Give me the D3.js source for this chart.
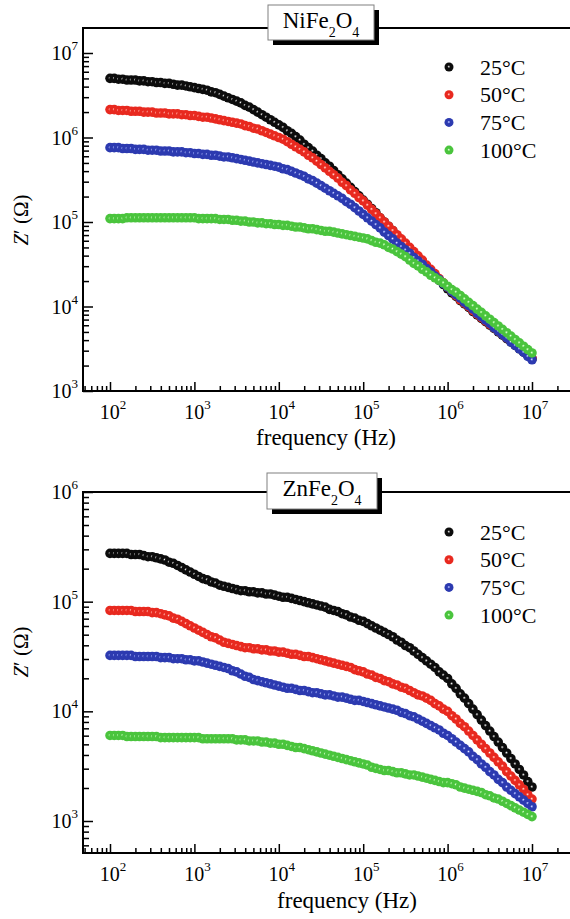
<!DOCTYPE html>
<html>
<head>
<meta charset="utf-8">
<script src="https://cdn.jsdelivr.net/npm/d3@7"></script>
<style>
  body { margin: 0; background: #fff; }
  svg { display: block; }
</style>
</head>
<body>
<svg id="chart" width="570" height="919" font-family="'Liberation Serif', 'DejaVu Serif', serif"></svg>
<script>
// Measurement frequencies, log10(f / Hz)
const freqExp = [
  2.00,2.05,2.10,2.15,2.20,2.25,2.30,2.35,2.40,2.45,
  2.50,2.55,2.60,2.65,2.70,2.75,2.80,2.85,2.90,2.95,
  3.00,3.05,3.10,3.15,3.20,3.25,3.30,3.35,3.40,3.45,
  3.50,3.55,3.60,3.65,3.70,3.75,3.80,3.85,3.90,3.95,
  4.00,4.05,4.10,4.15,4.20,4.25,4.30,4.35,4.40,4.45,
  4.50,4.55,4.60,4.65,4.70,4.75,4.80,4.85,4.90,4.95,
  5.00,5.05,5.10,5.15,5.20,5.25,5.30,5.35,5.40,5.45,
  5.50,5.55,5.60,5.65,5.70,5.75,5.80,5.85,5.90,5.95,
  6.00,6.05,6.10,6.15,6.20,6.25,6.30,6.35,6.40,6.45,
  6.50,6.55,6.60,6.65,6.70,6.75,6.80,6.85,6.90,6.95,
  7.00
];

const temperatures = ["25°C", "50°C", "75°C", "100°C"];

// NiFe2O4: log10(Z' / Ω) at each frequency
const niFe25 = [
  6.70,6.70,6.69,6.69,6.68,6.68,6.68,6.67,6.67,6.66,
  6.66,6.65,6.65,6.64,6.64,6.63,6.62,6.62,6.61,6.60,
  6.59,6.58,6.57,6.56,6.54,6.53,6.51,6.49,6.47,6.45,
  6.43,6.41,6.38,6.36,6.33,6.30,6.27,6.24,6.21,6.18,
  6.15,6.12,6.08,6.05,6.01,5.97,5.92,5.88,5.84,5.79,
  5.75,5.70,5.66,5.61,5.56,5.51,5.46,5.41,5.36,5.31,
  5.26,5.21,5.16,5.11,5.05,5.00,4.95,4.90,4.84,4.79,
  4.74,4.69,4.63,4.58,4.53,4.47,4.42,4.37,4.31,4.26,
  4.21,4.16,4.12,4.07,4.03,3.99,3.94,3.90,3.86,3.82,
  3.78,3.74,3.70,3.66,3.62,3.58,3.54,3.50,3.46,3.42,
  3.38
];
const niFe50 = [
  6.33,6.33,6.32,6.32,6.32,6.31,6.31,6.31,6.30,6.30,
  6.30,6.29,6.29,6.29,6.28,6.28,6.28,6.27,6.27,6.26,
  6.26,6.25,6.24,6.24,6.23,6.22,6.21,6.20,6.19,6.18,
  6.17,6.16,6.14,6.13,6.11,6.10,6.08,6.06,6.04,6.02,
  6.00,5.98,5.95,5.92,5.89,5.86,5.83,5.79,5.76,5.72,
  5.68,5.64,5.60,5.56,5.52,5.47,5.43,5.38,5.34,5.29,
  5.25,5.20,5.15,5.10,5.05,5.00,4.95,4.90,4.85,4.80,
  4.75,4.70,4.65,4.60,4.55,4.49,4.44,4.39,4.33,4.28,
  4.23,4.18,4.13,4.08,4.04,4.00,3.95,3.91,3.87,3.83,
  3.79,3.75,3.71,3.67,3.63,3.59,3.55,3.51,3.47,3.43,
  3.39
];
const niFe75 = [
  5.88,5.88,5.88,5.87,5.87,5.87,5.86,5.86,5.86,5.85,
  5.85,5.85,5.84,5.84,5.84,5.83,5.83,5.83,5.82,5.82,
  5.81,5.81,5.80,5.80,5.79,5.79,5.78,5.77,5.77,5.76,
  5.75,5.74,5.73,5.72,5.71,5.70,5.69,5.68,5.67,5.66,
  5.65,5.63,5.62,5.60,5.58,5.56,5.54,5.51,5.49,5.46,
  5.43,5.40,5.37,5.34,5.31,5.28,5.24,5.21,5.17,5.13,
  5.09,5.05,5.01,4.97,4.93,4.88,4.84,4.80,4.75,4.71,
  4.67,4.63,4.58,4.54,4.50,4.45,4.41,4.36,4.32,4.27,
  4.23,4.18,4.14,4.10,4.05,4.01,3.97,3.92,3.88,3.84,
  3.80,3.75,3.71,3.67,3.63,3.58,3.54,3.50,3.46,3.41,
  3.37
];
const niFe100 = [
  5.04,5.04,5.04,5.04,5.05,5.05,5.05,5.05,5.05,5.05,
  5.05,5.05,5.05,5.05,5.05,5.05,5.05,5.05,5.05,5.05,
  5.05,5.04,5.04,5.04,5.04,5.04,5.03,5.03,5.03,5.02,
  5.02,5.01,5.01,5.00,5.00,4.99,4.99,4.98,4.98,4.97,
  4.97,4.96,4.96,4.95,4.94,4.94,4.93,4.92,4.92,4.91,
  4.90,4.89,4.89,4.88,4.87,4.86,4.85,4.84,4.83,4.82,
  4.81,4.80,4.78,4.76,4.75,4.73,4.70,4.68,4.65,4.62,
  4.59,4.55,4.51,4.48,4.44,4.41,4.37,4.34,4.31,4.28,
  4.24,4.20,4.17,4.13,4.09,4.05,4.01,3.97,3.93,3.89,
  3.85,3.81,3.77,3.73,3.69,3.65,3.61,3.57,3.53,3.49,
  3.45
];

// ZnFe2O4: log10(Z' / Ω) at each frequency
const znFe25 = [
  5.44,5.44,5.44,5.44,5.44,5.43,5.43,5.43,5.42,5.41,
  5.41,5.40,5.39,5.38,5.36,5.35,5.33,5.31,5.29,5.27,
  5.25,5.23,5.21,5.20,5.18,5.17,5.15,5.14,5.13,5.12,
  5.11,5.10,5.10,5.09,5.09,5.08,5.08,5.07,5.07,5.06,
  5.05,5.04,5.04,5.03,5.02,5.01,5.00,4.99,4.98,4.97,
  4.96,4.95,4.93,4.92,4.91,4.89,4.88,4.86,4.85,4.83,
  4.82,4.80,4.78,4.76,4.74,4.72,4.70,4.68,4.65,4.63,
  4.60,4.58,4.55,4.52,4.49,4.46,4.43,4.40,4.36,4.33,
  4.30,4.25,4.21,4.16,4.12,4.07,4.02,3.97,3.92,3.87,
  3.82,3.77,3.72,3.67,3.62,3.57,3.52,3.47,3.42,3.36,
  3.31
];
const znFe50 = [
  4.92,4.92,4.92,4.92,4.92,4.92,4.91,4.91,4.91,4.91,
  4.90,4.90,4.89,4.88,4.87,4.85,4.84,4.82,4.80,4.78,
  4.76,4.74,4.72,4.70,4.68,4.67,4.65,4.63,4.62,4.61,
  4.60,4.59,4.58,4.58,4.57,4.57,4.56,4.56,4.55,4.55,
  4.54,4.54,4.53,4.52,4.52,4.51,4.50,4.50,4.49,4.48,
  4.47,4.46,4.45,4.44,4.43,4.42,4.41,4.40,4.38,4.37,
  4.36,4.34,4.33,4.31,4.30,4.28,4.27,4.25,4.24,4.22,
  4.21,4.19,4.17,4.15,4.14,4.12,4.10,4.07,4.05,4.02,
  4.00,3.96,3.93,3.89,3.86,3.82,3.78,3.74,3.70,3.66,
  3.62,3.58,3.54,3.50,3.45,3.41,3.37,3.33,3.29,3.24,
  3.20
];
const znFe75 = [
  4.51,4.51,4.51,4.51,4.51,4.51,4.50,4.50,4.50,4.50,
  4.50,4.50,4.49,4.49,4.49,4.48,4.48,4.48,4.47,4.47,
  4.46,4.46,4.45,4.44,4.43,4.42,4.41,4.40,4.39,4.37,
  4.36,4.34,4.32,4.31,4.29,4.28,4.27,4.26,4.25,4.24,
  4.23,4.22,4.21,4.21,4.20,4.19,4.19,4.18,4.17,4.17,
  4.16,4.15,4.15,4.14,4.13,4.13,4.12,4.11,4.10,4.10,
  4.09,4.08,4.07,4.06,4.05,4.04,4.03,4.02,4.01,3.99,
  3.98,3.96,3.95,3.93,3.91,3.89,3.87,3.85,3.83,3.80,
  3.78,3.75,3.72,3.69,3.66,3.63,3.59,3.56,3.52,3.49,
  3.45,3.42,3.38,3.35,3.31,3.28,3.25,3.22,3.19,3.16,
  3.13
];
const znFe100 = [
  3.78,3.78,3.78,3.78,3.77,3.77,3.77,3.77,3.77,3.77,
  3.77,3.77,3.76,3.76,3.76,3.76,3.76,3.76,3.76,3.76,
  3.76,3.76,3.75,3.75,3.75,3.75,3.75,3.75,3.75,3.75,
  3.74,3.74,3.74,3.73,3.73,3.73,3.72,3.72,3.71,3.71,
  3.70,3.70,3.69,3.68,3.67,3.67,3.66,3.65,3.64,3.63,
  3.62,3.61,3.60,3.59,3.58,3.57,3.56,3.55,3.54,3.53,
  3.52,3.51,3.49,3.48,3.47,3.46,3.46,3.45,3.44,3.44,
  3.43,3.42,3.42,3.41,3.40,3.39,3.38,3.37,3.36,3.35,
  3.35,3.34,3.33,3.31,3.30,3.29,3.28,3.27,3.26,3.24,
  3.23,3.21,3.20,3.18,3.16,3.14,3.12,3.10,3.08,3.06,
  3.04
];

// Decade tick labels (exponents of 10)
const xTickExps = [2, 3, 4, 5, 6, 7];
const yTickExpsNi = [3, 4, 5, 6, 7];
const yTickExpsZn = [3, 4, 5, 6];

// Sphere shading for each temperature series
const ballColors = [
  { light: "#8a8a8a", base: "#0c0c0c" },
  { light: "#ff8a80", base: "#e8291f" },
  { light: "#8290ea", base: "#2c3ab0" },
  { light: "#a0ee92", base: "#4ac43d" }
];

const svg = d3.select("#chart");
const defs = svg.append("defs");
ballColors.forEach((c, i) => {
  const g = defs.append("radialGradient")
    .attr("id", "ball" + i)
    .attr("cx", "50%").attr("cy", "50%").attr("r", "50%")
    .attr("fx", "47%").attr("fy", "45%");
  g.append("stop").attr("offset", "0%").attr("stop-color", "#ffffff");
  g.append("stop").attr("offset", "14%").attr("stop-color", c.light);
  g.append("stop").attr("offset", "34%").attr("stop-color", c.base);
  g.append("stop").attr("offset", "100%").attr("stop-color", c.base);
});

const plotLeft = 83, plotRight = 570;
const x = d3.scaleLog().domain([1e2, 1e7]).range([110, 532]);

const panels = [
  {
    title: ["NiFe", "2", "O", "4"],
    series: [niFe25, niFe50, niFe75, niFe100],
    yTicks: yTickExpsNi,
    yDomain: [1e3, 1e7], yRange: [391, 53],
    frameTop: 28, axisY: 391,
    box: { x: 268, y: 5, w: 106, h: 35 },
    legendY: 67,
    xTitle: { x: 326, y: 445 },
    yTitleY: 220
  },
  {
    title: ["ZnFe", "2", "O", "4"],
    series: [znFe25, znFe50, znFe75, znFe100],
    yTicks: yTickExpsZn,
    yDomain: [1e3, 1e6], yRange: [821, 492],
    frameTop: 492, axisY: 853,
    box: { x: 267, y: 473, w: 110, h: 36 },
    legendY: 532,
    xTitle: { x: 347, y: 908 },
    yTitleY: 652
  }
];

function powerLabel(sel, exp) {
  sel.append("tspan").text("10");
  sel.append("tspan").attr("font-size", 13).attr("dy", -10).text(exp);
}

panels.forEach(p => {
  const y = d3.scaleLog().domain(p.yDomain).range(p.yRange);
  const g = svg.append("g");

  // minor ticks across the full visible extent
  const xFull = d3.scaleLog().domain([x.invert(plotLeft), x.invert(plotRight)]);
  const xMajors = xTickExps.map(e => Math.pow(10, e));
  const xMinors = xFull.ticks().filter(v => !xMajors.some(m => Math.abs(m - v) / m < 1e-9));
  const yFull = d3.scaleLog().domain([y.invert(p.axisY), y.invert(p.frameTop)]);
  const yMajors = p.yTicks.map(e => Math.pow(10, e));
  const yMinors = yFull.ticks().filter(v => !yMajors.some(m => Math.abs(m - v) / m < 1e-9))
    .filter(v => y(v) < p.axisY - 1 && y(v) > p.frameTop + 1);

  const styleAxis = a => {
    a.select(".domain").remove();
    a.selectAll(".tick line").attr("stroke", "#000").attr("stroke-width", 1.5);
  };

  g.append("g").attr("transform", `translate(0,${p.axisY})`)
    .call(d3.axisBottom(x).tickValues(xMajors).tickSize(-9).tickFormat(() => ""))
    .call(styleAxis);
  g.append("g").attr("transform", `translate(0,${p.axisY})`)
    .call(d3.axisBottom(x).tickValues(xMinors.filter(v => x(v) < plotRight)).tickSize(-5).tickFormat(() => ""))
    .call(styleAxis);
  g.append("g").attr("transform", `translate(${plotLeft},0)`)
    .call(d3.axisLeft(y).tickValues(yMajors).tickSize(-10).tickFormat(() => ""))
    .call(styleAxis);
  g.append("g").attr("transform", `translate(${plotLeft},0)`)
    .call(d3.axisLeft(y).tickValues(yMinors).tickSize(-6).tickFormat(() => ""))
    .call(styleAxis);

  // frame: left, top and bottom lines
  g.append("path")
    .attr("d", `M${plotRight},${p.frameTop}H${plotLeft}V${p.axisY}H${plotRight}`)
    .attr("fill", "none").attr("stroke", "#000").attr("stroke-width", 2);

  // tick labels
  xTickExps.forEach(e => {
    g.append("text").attr("x", x(Math.pow(10, e)) + 3).attr("y", p.axisY + 28)
      .attr("text-anchor", "middle").attr("font-size", 20)
      .call(powerLabel, e);
  });
  p.yTicks.forEach(e => {
    g.append("text").attr("x", 78).attr("y", y(Math.pow(10, e)) + 7)
      .attr("text-anchor", "end").attr("font-size", 20)
      .call(powerLabel, e);
  });

  // axis titles
  g.append("text").attr("x", p.xTitle.x).attr("y", p.xTitle.y)
    .attr("text-anchor", "middle").attr("font-size", 23)
    .text("frequency (Hz)");
  const yt = g.append("text")
    .attr("transform", `translate(28,${p.yTitleY}) rotate(-90)`)
    .attr("text-anchor", "middle").attr("font-size", 21);
  yt.append("tspan").attr("font-style", "italic").text("Z");
  yt.append("tspan").text("′ (Ω)");

  // data markers, 25°C drawn first and 100°C on top
  p.series.forEach((vals, i) => {
    g.append("g").selectAll("circle")
      .data(d3.zip(freqExp, vals))
      .join("circle")
      .attr("cx", d => x(Math.pow(10, d[0])))
      .attr("cy", d => y(Math.pow(10, d[1])))
      .attr("r", 4.8)
      .attr("fill", `url(#ball${i})`);
  });

  // title box with drop shadow
  const b = p.box;
  g.append("rect").attr("x", b.x + 5).attr("y", b.y + 5).attr("width", b.w).attr("height", b.h)
    .attr("fill", "#000");
  g.append("rect").attr("x", b.x).attr("y", b.y).attr("width", b.w).attr("height", b.h)
    .attr("fill", "#fff").attr("stroke", "#808080").attr("stroke-width", 1);
  const tt = g.append("text").attr("x", b.x + b.w / 2).attr("y", b.y + 23)
    .attr("text-anchor", "middle").attr("font-size", 23);
  tt.append("tspan").text(p.title[0]);
  tt.append("tspan").attr("font-size", 14).attr("dy", 9).text(p.title[1]);
  tt.append("tspan").attr("dy", -9).text(p.title[2]);
  tt.append("tspan").attr("font-size", 14).attr("dy", 9).text(p.title[3]);

  // legend
  temperatures.forEach((t, i) => {
    const ly = p.legendY + i * 27.7;
    g.append("circle").attr("cx", 449).attr("cy", ly).attr("r", 4.5)
      .attr("fill", `url(#ball${i})`);
    g.append("text").attr("x", 480).attr("y", ly + 7.5).attr("font-size", 22).text(t);
  });
});
</script>
</body>
</html>
